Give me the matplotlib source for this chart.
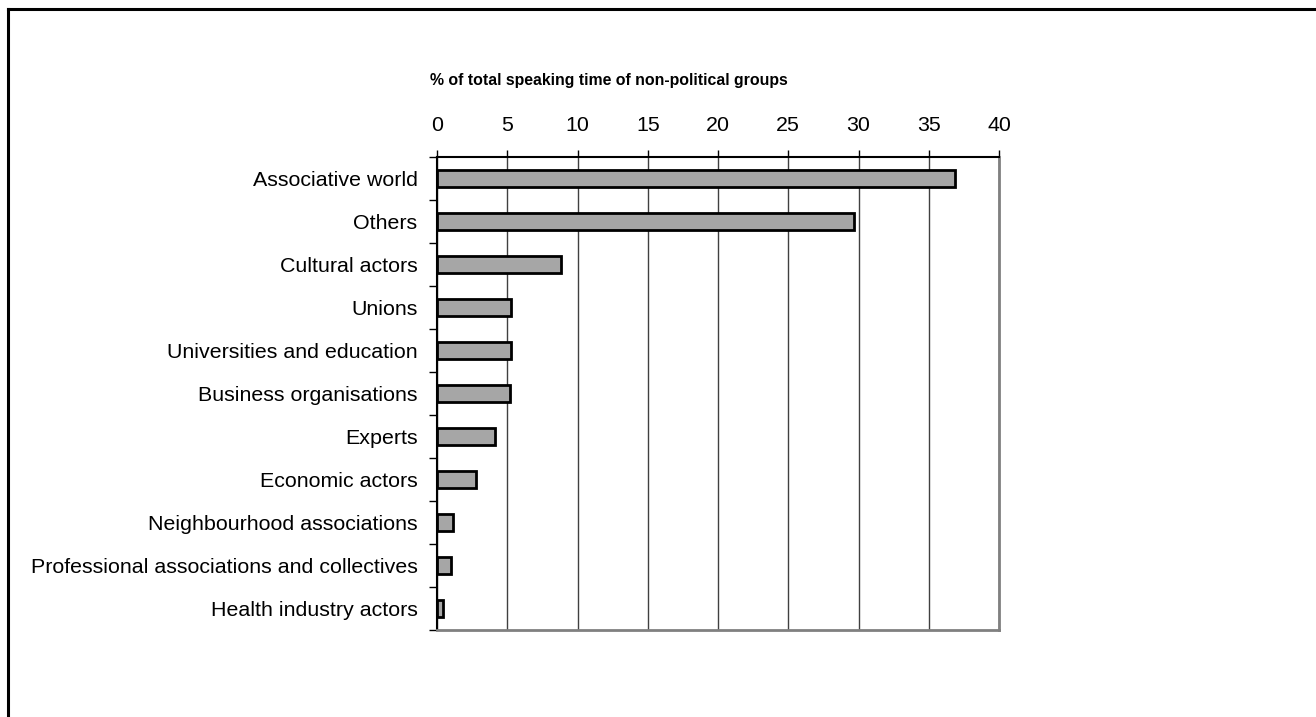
import numpy as np
import matplotlib
matplotlib.use("Agg")
import matplotlib.pyplot as plt
from matplotlib.lines import Line2D

plt.rcParams['font.family'] = ['Liberation Sans', 'DejaVu Sans']

# data (top to bottom)
groups = ["Associative world",
          "Others",
          "Cultural actors",
          "Unions",
          "Universities and education",
          "Business organisations",
          "Experts",
          "Economic actors",
          "Neighbourhood associations",
          "Professional associations and collectives",
          "Health industry actors"]
shares = [36.9, 29.7, 8.8, 5.3, 5.3, 5.2, 4.1, 2.8, 1.15, 1.0, 0.45]
x_ticks = [0, 5, 10, 15, 20, 25, 30, 35, 40]

fig = plt.figure(figsize=(13.16, 7.17), dpi=100)
ax = fig.add_axes([437 / 1316, 1 - 630 / 717, 562 / 1316, 473 / 717])

n = len(groups)
ypos = np.arange(n)
ax.barh(ypos, shares, height=0.4, color="#a6a6a6", edgecolor="black",
        linewidth=2, zorder=3)

ax.set_xlim(0, 40)
ax.set_ylim(n - 0.5, -0.5)
ax.set_xticks(x_ticks)
ax.xaxis.tick_top()
ax.tick_params(axis="x", direction="out", length=5, width=1, pad=11,
               labelsize=15.4, colors="black")
ax.grid(axis="x", color="#404040", linewidth=1, zorder=1)

ax.set_yticks(ypos)
ax.set_yticklabels(groups)
ax.set_yticks(np.arange(n + 1) - 0.5, minor=True)
ax.tick_params(axis="y", which="major", length=0, pad=14, labelsize=15.4)
ax.tick_params(axis="y", which="minor", direction="out", length=6, width=1)

ax.spines["top"].set_color("black")
ax.spines["top"].set_linewidth(1.5)
ax.spines["left"].set_color("black")
ax.spines["left"].set_linewidth(1.5)
ax.spines["right"].set_color("#808080")
ax.spines["right"].set_linewidth(2)
ax.spines["bottom"].set_color("#808080")
ax.spines["bottom"].set_linewidth(2)

fig.text(609 / 1316, 1 - 80 / 717, "% of total speaking time of non-political groups",
         ha="center", va="center", fontsize=11.4, fontweight="bold")

# outer frame (top and left edges only)
fig.add_artist(Line2D([8 / 1316, 1], [1 - 9 / 717, 1 - 9 / 717],
                      transform=fig.transFigure, color="black", linewidth=2.2))
fig.add_artist(Line2D([8 / 1316, 8 / 1316], [0, 1 - 9 / 717],
                      transform=fig.transFigure, color="black", linewidth=2.2))

fig.savefig("out.png", dpi=100)
